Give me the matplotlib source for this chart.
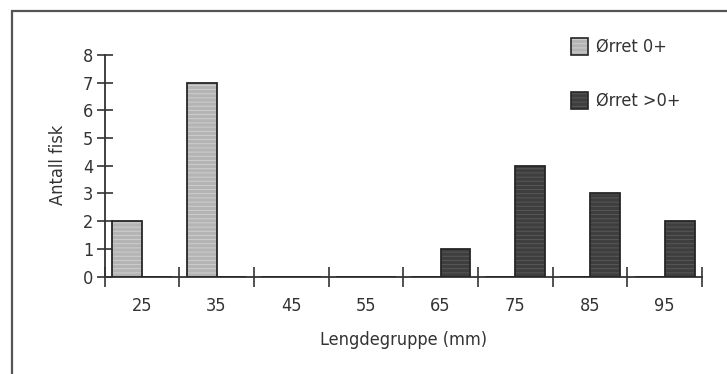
import matplotlib
matplotlib.use("Agg")
import matplotlib.pyplot as plt
from matplotlib.patches import Rectangle
from matplotlib import font_manager

# Length groups (mm) and counts per age class
length_groups = ["25", "35", "45", "55", "65", "75", "85", "95"]
orret_0 = [2, 7, 0, 0, 0, 0, 0, 0]
orret_over0 = [0, 0, 0, 0, 1, 4, 3, 2]
y_ticks = [0, 1, 2, 3, 4, 5, 6, 7, 8]

names = {f.name for f in font_manager.fontManager.ttflist}
condensed = any("Condensed" in f.fname and "DejaVuSans" in f.fname
                for f in font_manager.fontManager.ttflist)
plt.rcParams["font.family"] = ["DejaVu Sans"]
plt.rcParams["font.stretch"] = "condensed" if condensed else "normal"
plt.rcParams["hatch.linewidth"] = 0.6

W, H = 727, 374
fig = plt.figure(figsize=(W / 100, H / 100), dpi=100)
fig.patch.set_facecolor("white")

# outer frame
fig.add_artist(Rectangle((12 / W, -0.05), 1.2, 1 - 11 / H + 0.05,
                         transform=fig.transFigure, fill=False,
                         edgecolor="#555555", linewidth=1.6))

x0, x1 = 104.5, 702
yb, yt = 276.5, 55
ax = fig.add_axes([x0 / W, 1 - yb / H, (x1 - x0) / W, (yb - yt) / H])
ax.set_xlim(0, len(length_groups))
ax.set_ylim(0, 8)
for s in ["top", "right"]:
    ax.spines[s].set_visible(False)
for s in ["left", "bottom"]:
    ax.spines[s].set_color("#333333")
    ax.spines[s].set_linewidth(1.3)

centers = [i + 0.5 for i in range(len(length_groups))]
bw = 0.4
light, dark = "#b4b4b4", "#3e3e3e"
light_h, dark_h = "#d2d2d2", "#5c5c5c"

def draw(xs, vals, face, hatch_col):
    ax.bar(xs, vals, bw, color=face, edgecolor="none", linewidth=0, zorder=2)
    ax.bar(xs, vals, bw, color="none", edgecolor=hatch_col, hatch="----",
           linewidth=0, zorder=3)
    ax.bar(xs, vals, bw, color="none", edgecolor="#262626", linewidth=1.3,
           zorder=4)

draw([c - bw / 2 for c in centers], orret_0, light, light_h)
draw([c + bw / 2 for c in centers], orret_over0, dark, dark_h)

fs = 13
# axis ticks crossing the axis lines
ax.set_yticks(y_ticks)
ax.set_yticklabels([str(v) for v in y_ticks], fontsize=fs, color="#333333")
ax.tick_params(axis="y", direction="inout", length=12, width=1.2,
               colors="#333333", pad=2)
ax.set_xticks(range(len(length_groups) + 1))
ax.set_xticklabels([])
ax.tick_params(axis="x", direction="inout", length=15, width=1.2,
               colors="#333333")
for c, lab in zip(centers, length_groups):
    ax.text(c, -1.05, lab, ha="center", va="center", fontsize=fs,
            color="#333333")

fig.text(403 / W, 1 - 340 / H, "Lengdegruppe (mm)", ha="center",
         va="center", fontsize=fs, color="#333333")
fig.text(58 / W, 1 - 165 / H, "Antall fisk", ha="center", va="center",
         rotation=90, fontsize=fs, color="#333333")

# legend
for (ytop, face, hcol, lab) in [(38, light, light_h, "Ørret 0+"),
                                (92, dark, dark_h, "Ørret >0+")]:
    box = (571 / W, 1 - (ytop + 17) / H)
    fig.add_artist(Rectangle(box, 17 / W, 17 / H, transform=fig.transFigure,
                             facecolor=face, edgecolor="none"))
    fig.add_artist(Rectangle(box, 17 / W, 17 / H, transform=fig.transFigure,
                             facecolor="none", edgecolor=hcol, hatch="----",
                             linewidth=0))
    fig.add_artist(Rectangle(box, 17 / W, 17 / H, transform=fig.transFigure,
                             facecolor="none", edgecolor="#262626",
                             linewidth=1.2))
    fig.text(596 / W, 1 - (ytop + 9) / H, lab, ha="left", va="center",
             fontsize=fs, color="#333333")

fig.savefig("out.png", dpi=100, facecolor="white")
